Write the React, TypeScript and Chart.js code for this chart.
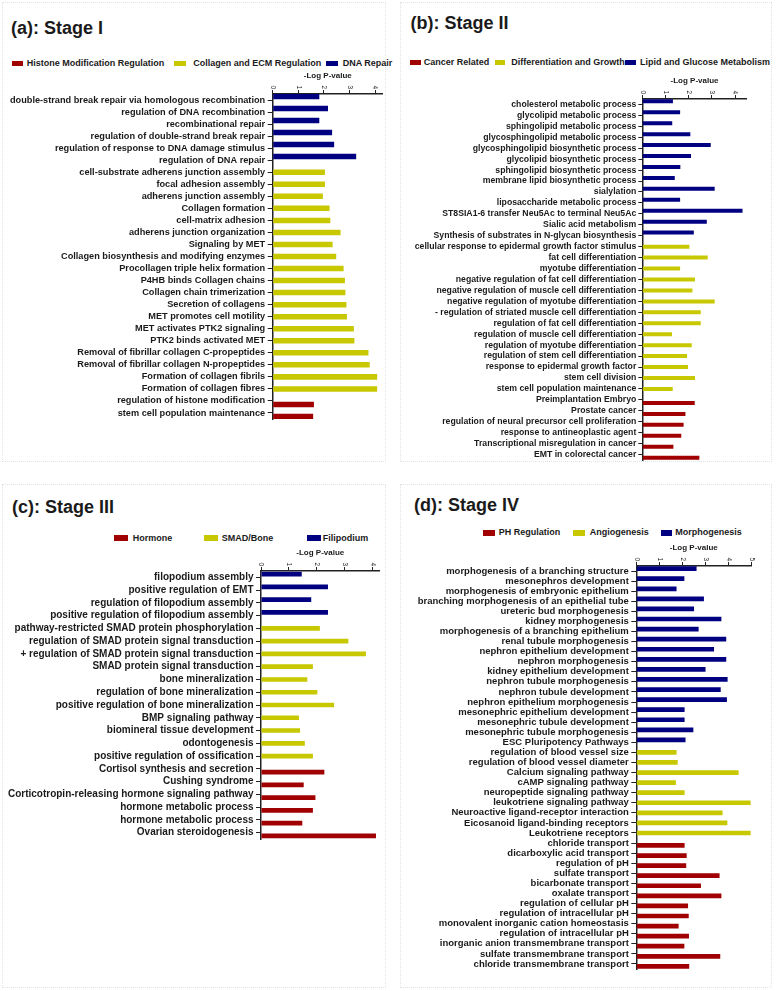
import React, { useEffect, useRef } from 'react';
import { Chart, registerables } from 'chart.js';

Chart.register(...registerables);

// ---------------- DATA ----------------
const SERIES_COLORS = ['#A00000', '#C8C800', '#000080']; // 0 red, 1 yellow, 2 blue

const stage1Title = '(a): Stage I';
const stage1Legend = ['Histone Modification Regulation', 'Collagen and ECM Regulation', 'DNA Repair'];
const stage1Labels = [
  'double-strand break repair via homologous recombination',
  'regulation of DNA recombination',
  'recombinational repair',
  'regulation of double-strand break repair',
  'regulation of response to DNA damage stimulus',
  'regulation of DNA repair',
  'cell-substrate adherens junction assembly',
  'focal adhesion assembly',
  'adherens junction assembly',
  'Collagen formation',
  'cell-matrix adhesion',
  'adherens junction organization',
  'Signaling by MET',
  'Collagen biosynthesis and modifying enzymes',
  'Procollagen triple helix formation',
  'P4HB binds Collagen chains',
  'Collagen chain trimerization',
  'Secretion of collagens',
  'MET promotes cell motility',
  'MET activates PTK2 signaling',
  'PTK2 binds activated MET',
  'Removal of fibrillar collagen C-propeptides',
  'Removal of fibrillar collagen N-propeptides',
  'Formation of collagen fibrils',
  'Formation of collagen fibres',
  'regulation of histone modification',
  'stem cell population maintenance',
];
const stage1Values = [
  1.82, 2.16, 1.82, 2.32, 2.40, 3.26,
  2.04, 2.04, 1.96, 2.22, 2.25, 2.65, 2.34, 2.48, 2.77, 2.82, 2.84, 2.88, 2.90, 3.17, 3.19, 3.74, 3.79, 4.08, 4.08,
  1.61, 1.58,
];
const stage1Groups = [
  2, 2, 2, 2, 2, 2,
  1, 1, 1, 1, 1, 1, 1, 1, 1, 1, 1, 1, 1, 1, 1, 1, 1, 1, 1,
  0, 0,
];
const stage1Ticks = [0, 1, 2, 3, 4];
const stage1Max = 4.3;

const stage2Title = '(b): Stage II';
const stage2Legend = ['Cancer Related', 'Differentiation and Growth', 'Lipid and Glucose Metabolism'];
const stage2Labels = [
  'cholesterol metabolic process',
  'glycolipid metabolic process',
  'sphingolipid metabolic process',
  'glycosphingolipid metabolic process',
  'glycosphingolipid biosynthetic process',
  'glycolipid biosynthetic process',
  'sphingolipid biosynthetic process',
  'membrane lipid biosynthetic process',
  'sialylation',
  'liposaccharide metabolic process',
  'ST8SIA1-6 transfer Neu5Ac to terminal Neu5Ac',
  'Sialic acid metabolism',
  'Synthesis of substrates in N-glycan biosynthesis',
  'cellular response to epidermal growth factor stimulus',
  'fat cell differentiation',
  'myotube differentiation',
  'negative regulation of fat cell differentiation',
  'negative regulation of muscle cell differentiation',
  'negative regulation of myotube differentiation',
  '- regulation of striated muscle cell differentiation',
  'regulation of fat cell differentiation',
  'regulation of muscle cell differentiation',
  'regulation of myotube differentiation',
  'regulation of stem cell differentiation',
  'response to epidermal growth factor',
  'stem cell division',
  'stem cell population maintenance',
  'Preimplantation Embryo',
  'Prostate cancer',
  'regulation of neural precursor cell proliferation',
  'response to antineoplastic agent',
  'Transcriptional misregulation in cancer',
  'EMT in colorectal cancer',
];
const stage2Values = [
  1.32, 1.63, 1.29, 2.07, 2.95, 2.10, 1.64, 1.40, 3.12, 1.63, 4.32, 2.78, 2.22,
  2.03, 2.82, 1.63, 2.27, 2.16, 3.12, 2.52, 2.52, 1.28, 2.13, 1.93, 1.97, 2.27, 1.31,
  2.26, 1.86, 1.78, 1.68, 1.34, 2.46,
];
const stage2Groups = [
  2, 2, 2, 2, 2, 2, 2, 2, 2, 2, 2, 2, 2,
  1, 1, 1, 1, 1, 1, 1, 1, 1, 1, 1, 1, 1, 1,
  0, 0, 0, 0, 0, 0,
];
const stage2Ticks = [0, 1, 2, 3, 4];
const stage2Max = 4.5;

const stage3Title = '(c): Stage III';
const stage3Legend = ['Hormone', 'SMAD/Bone', 'Filipodium'];
const stage3Labels = [
  'filopodium assembly',
  'positive regulation of EMT',
  'regulation of filopodium assembly',
  'positive regulation of filopodium assembly',
  'pathway-restricted SMAD protein phosphorylation',
  'regulation of SMAD protein signal transduction',
  '+ regulation of SMAD protein signal transduction',
  'SMAD protein signal transduction',
  'bone mineralization',
  'regulation of bone mineralization',
  'positive regulation of bone mineralization',
  'BMP signaling pathway',
  'biomineral tissue development',
  'odontogenesis',
  'positive regulation of ossification',
  'Cortisol synthesis and secretion',
  'Cushing syndrome',
  'Corticotropin-releasing hormone signaling pathway',
  'hormone metabolic process',
  'hormone metabolic process',
  'Ovarian steroidogenesis',
];
const stage3Values = [
  1.46, 2.40, 1.80, 2.40,
  2.11, 3.13, 3.76, 1.86, 1.66, 2.02, 2.62, 1.36, 1.40, 1.57, 1.86,
  2.27, 1.53, 1.95, 1.86, 1.48, 4.12,
];
const stage3Groups = [
  2, 2, 2, 2,
  1, 1, 1, 1, 1, 1, 1, 1, 1, 1, 1,
  0, 0, 0, 0, 0, 0,
];
const stage3Ticks = [0, 1, 2, 3, 4];
const stage3Max = 4.25;

const stage4Title = '(d): Stage IV';
const stage4Legend = ['PH Regulation', 'Angiogenesis', 'Morphogenesis'];
const stage4Labels = [
  'morphogenesis of a branching structure',
  'mesonephros development',
  'morphogenesis of embryonic epithelium',
  'branching morphogenesis of an epithelial tube',
  'ureteric bud morphogenesis',
  'kidney morphogenesis',
  'morphogenesis of a branching epithelium',
  'renal tubule morphogenesis',
  'nephron epithelium development',
  'nephron morphogenesis',
  'kidney epithelium development',
  'nephron tubule morphogenesis',
  'nephron tubule development',
  'nephron epithelium morphogenesis',
  'mesonephric epithelium development',
  'mesonephric tubule development',
  'mesonephric tubule morphogenesis',
  'ESC Pluripotency Pathways',
  'regulation of blood vessel size',
  'regulation of blood vessel diameter',
  'Calcium signaling pathway',
  'cAMP signaling pathway',
  'neuropeptide signaling pathway',
  'leukotriene signaling pathway',
  'Neuroactive ligand-receptor interaction',
  'Eicosanoid ligand-binding receptors',
  'Leukotriene receptors',
  'chloride transport',
  'dicarboxylic acid transport',
  'regulation of pH',
  'sulfate transport',
  'bicarbonate transport',
  'oxalate transport',
  'regulation of cellular pH',
  'regulation of intracellular pH',
  'monovalent inorganic cation homeostasis',
  'regulation of intracellular pH',
  'inorganic anion transmembrane transport',
  'sulfate transmembrane transport',
  'chloride transmembrane transport',
];
const stage4Values = [
  2.62, 2.09, 1.75, 2.94, 2.51, 3.70, 2.71, 3.91, 3.38, 3.91, 3.01, 3.97, 3.67, 3.94, 2.10, 2.10, 2.48, 2.14,
  1.75, 1.80, 4.45, 1.72, 2.10, 4.97, 3.75, 3.96, 4.97,
  2.10, 2.19, 2.17, 3.62, 2.81, 3.70, 2.25, 2.28, 1.84, 2.29, 2.09, 3.65, 2.30,
];
const stage4Groups = [
  2, 2, 2, 2, 2, 2, 2, 2, 2, 2, 2, 2, 2, 2, 2, 2, 2, 2,
  1, 1, 1, 1, 1, 1, 1, 1, 1,
  0, 0, 0, 0, 0, 0, 0, 0, 0, 0, 0, 0, 0,
];
const stage4Ticks = [0, 1, 2, 3, 4, 5];
const stage4Max = 5;

const axisTitle = '-Log P-value';

// ---------------- LAYOUT / STYLE ----------------
const FONT = '"Liberation Sans", Arial, Helvetica, sans-serif';
const TEXT_COLOR = '#1a1a1a';
const AXIS_COLOR = '#222222';

type Geom = {
  canvasLeft: number;
  canvasWidth: number;
  chartLeft: number;
  chartRight: number;
  chartTop: number;
  chartBottom: number;
  labelFont: number;
  tickLen: number;
  tickPad: number;
  catPct: number;
  barPct: number;
};

type LegendGeom = { cy: number; boxX: number[]; textX: number[]; boxW: number; boxH: number };
type TitleGeom = { x: number; cy: number };

const TOP_BAND = 30;
const BOTTOM_PAD = 10;

function TextAt(props: { x: number; cy: number; size: number; text: string }) {
  const { x, cy, size, text } = props;
  return (
    <div
      style={{
        position: 'absolute',
        left: x,
        top: cy - 0.4885 * size,
        fontSize: size,
        lineHeight: `${size}px`,
        fontFamily: FONT,
        fontWeight: 'bold',
        whiteSpace: 'nowrap',
        color: TEXT_COLOR,
      }}
    >
      {text}
    </div>
  );
}

function Legend(props: { names: string[]; g: LegendGeom }) {
  const { names, g } = props;
  return (
    <>
      {names.map((n, i) => (
        <React.Fragment key={n}>
          <div
            style={{
              position: 'absolute',
              left: g.boxX[i],
              top: g.cy - g.boxH / 2,
              width: g.boxW,
              height: g.boxH,
              background: SERIES_COLORS[i],
            }}
          />
          <TextAt x={g.textX[i]} cy={g.cy} size={9} text={n} />
        </React.Fragment>
      ))}
    </>
  );
}

function BarPanel(props: {
  labels: string[];
  values: number[];
  groups: number[];
  legend: string[];
  ticks: number[];
  max: number;
  g: Geom;
}) {
  const ref = useRef<HTMLCanvasElement>(null);
  const { g } = props;
  const canvasTop = g.chartTop - TOP_BAND;
  const canvasH = Math.round(TOP_BAND + (g.chartBottom - g.chartTop) + BOTTOM_PAD);
  const padRight = g.canvasWidth - (g.chartRight - g.canvasLeft);

  useEffect(() => {
    if (!ref.current) return;
    const datasets = [2, 1, 0].map((grp) => ({
      label: props.legend[grp],
      data: props.values.map((v, i) => (props.groups[i] === grp ? v : null)),
      backgroundColor: SERIES_COLORS[grp],
      borderWidth: 0,
      categoryPercentage: g.catPct,
      barPercentage: g.barPct,
    }));

    const topAxisPlugin = {
      id: 'topAxisText',
      afterDraw(chart: any) {
        const xs = chart.scales.x;
        const ctx = chart.ctx as CanvasRenderingContext2D;
        const top = chart.chartArea.top;
        ctx.save();
        ctx.fillStyle = TEXT_COLOR;
        ctx.font = `6.5px ${FONT}`;
        ctx.textBaseline = 'middle';
        ctx.textAlign = 'right';
        xs.ticks.forEach((t: any) => {
          const x = xs.getPixelForValue(t.value);
          ctx.save();
          ctx.translate(x, top - 5);
          ctx.rotate(Math.PI / 2);
          ctx.fillText(String(t.value), 0, 0);
          ctx.restore();
        });
        ctx.font = `bold 8px ${FONT}`;
        ctx.textAlign = 'center';
        ctx.fillText(axisTitle, (chart.chartArea.left + chart.chartArea.right) / 2, top - 18);
        ctx.restore();
      },
    };

    const chart = new Chart(ref.current, {
      type: 'bar',
      data: { labels: props.labels, datasets: datasets as any },
      options: {
        indexAxis: 'y',
        responsive: false,
        maintainAspectRatio: false,
        animation: false,
        layout: { padding: { left: 0, top: 0, right: padRight, bottom: BOTTOM_PAD } },
        plugins: { legend: { display: false }, tooltip: { enabled: false } },
        scales: {
          x: {
            type: 'linear',
            position: 'top',
            min: 0,
            max: props.max,
            afterBuildTicks: (s: any) => {
              s.ticks = props.ticks.map((v) => ({ value: v }));
            },
            afterFit: (s: any) => {
              s.height = TOP_BAND;
            },
            ticks: { display: false },
            grid: { drawOnChartArea: false, drawTicks: true, tickLength: 4, color: AXIS_COLOR, lineWidth: 1 },
            border: { display: true, color: AXIS_COLOR, width: 1.5 },
          },
          y: {
            type: 'category',
            position: 'left',
            offset: true,
            afterFit: (s: any) => {
              s.width = g.chartLeft - g.canvasLeft;
            },
            ticks: {
              autoSkip: false,
              color: TEXT_COLOR,
              padding: g.tickPad,
              font: { family: FONT, size: g.labelFont, weight: 'bold' },
            },
            grid: {
              drawOnChartArea: false,
              drawTicks: true,
              tickLength: g.tickLen,
              color: AXIS_COLOR,
              lineWidth: 1,
              offset: false,
            },
            border: { display: true, color: AXIS_COLOR, width: 1.5 },
          },
        },
      } as any,
      plugins: [topAxisPlugin],
    });
    return () => chart.destroy();
  }, []);

  return (
    <canvas
      ref={ref}
      width={g.canvasWidth}
      height={canvasH}
      style={{
        position: 'absolute',
        left: g.canvasLeft,
        top: canvasTop,
        width: g.canvasWidth,
        height: canvasH,
      }}
    />
  );
}

const geomA: Geom = {
  canvasLeft: 0, canvasWidth: 388, chartLeft: 272.7, chartRight: 382.8, chartTop: 94, chartBottom: 418.8,
  labelFont: 9.2, tickLen: 5, tickPad: 2.5, catPct: 0.898, barPct: 1.53,
};
const geomB: Geom = {
  canvasLeft: 388, canvasWidth: 388, chartLeft: 642.3, chartRight: 746.7, chartTop: 98.5, chartBottom: 459.5,
  labelFont: 8.7, tickLen: 4, tickPad: 2, catPct: 0.864, barPct: 1.27,
};
const geomC: Geom = {
  canvasLeft: 0, canvasWidth: 388, chartLeft: 261, chartRight: 379.6, chartTop: 570.6, chartBottom: 838.4,
  labelFont: 10, tickLen: 5, tickPad: 2.5, catPct: 0.776, barPct: 1.42,
};
const geomD: Geom = {
  canvasLeft: 388, canvasWidth: 388, chartLeft: 636.3, chartRight: 751.3, chartTop: 565.7, chartBottom: 969,
  labelFont: 9.5, tickLen: 5, tickPad: 2.5, catPct: 0.714, barPct: 1.96,
};

const legendA: LegendGeom = { cy: 63.3, boxX: [11.7, 174, 326], textX: [26.7, 193.3, 342.7], boxW: 11.5, boxH: 4.5 };
const legendB: LegendGeom = { cy: 62.5, boxX: [410, 494.7, 625.3], textX: [423.7, 511.3, 640], boxW: 10.7, boxH: 4.5 };
const legendC: LegendGeom = { cy: 538.3, boxX: [114.3, 204, 307.3], textX: [132.7, 221.7, 322.7], boxW: 14, boxH: 6 };
const legendD: LegendGeom = { cy: 532.7, boxX: [483, 573, 660.7], textX: [498.7, 589.7, 675.3], boxW: 11.7, boxH: 6 };

const titleA: TitleGeom = { x: 11, cy: 27.3 };
const titleB: TitleGeom = { x: 410.5, cy: 23 };
const titleC: TitleGeom = { x: 12, cy: 506.3 };
const titleD: TitleGeom = { x: 414, cy: 505 };

const panelBoxes = [
  { left: 2, top: 2, width: 384, height: 460 },
  { left: 400, top: 2, width: 372, height: 460 },
  { left: 2, top: 484, width: 384, height: 504 },
  { left: 400, top: 484, width: 372, height: 504 },
];

export default function App() {
  return (
    <div
      style={{
        position: 'absolute',
        left: 0,
        top: 0,
        width: 776,
        height: 991,
        background: '#ffffff',
        overflow: 'hidden',
      }}
    >
      {panelBoxes.map((b, i) => (
        <div
          key={i}
          style={{
            position: 'absolute',
            left: b.left,
            top: b.top,
            width: b.width,
            height: b.height,
            border: '1px dotted #e2e2e2',
            boxSizing: 'border-box',
          }}
        />
      ))}

      <TextAt x={titleA.x} cy={titleA.cy} size={18} text={stage1Title} />
      <Legend names={stage1Legend} g={legendA} />
      <BarPanel labels={stage1Labels} values={stage1Values} groups={stage1Groups} legend={stage1Legend} ticks={stage1Ticks} max={stage1Max} g={geomA} />

      <TextAt x={titleB.x} cy={titleB.cy} size={18} text={stage2Title} />
      <Legend names={stage2Legend} g={legendB} />
      <BarPanel labels={stage2Labels} values={stage2Values} groups={stage2Groups} legend={stage2Legend} ticks={stage2Ticks} max={stage2Max} g={geomB} />

      <TextAt x={titleC.x} cy={titleC.cy} size={18} text={stage3Title} />
      <Legend names={stage3Legend} g={legendC} />
      <BarPanel labels={stage3Labels} values={stage3Values} groups={stage3Groups} legend={stage3Legend} ticks={stage3Ticks} max={stage3Max} g={geomC} />

      <TextAt x={titleD.x} cy={titleD.cy} size={18} text={stage4Title} />
      <Legend names={stage4Legend} g={legendD} />
      <BarPanel labels={stage4Labels} values={stage4Values} groups={stage4Groups} legend={stage4Legend} ticks={stage4Ticks} max={stage4Max} g={geomD} />
    </div>
  );
}
